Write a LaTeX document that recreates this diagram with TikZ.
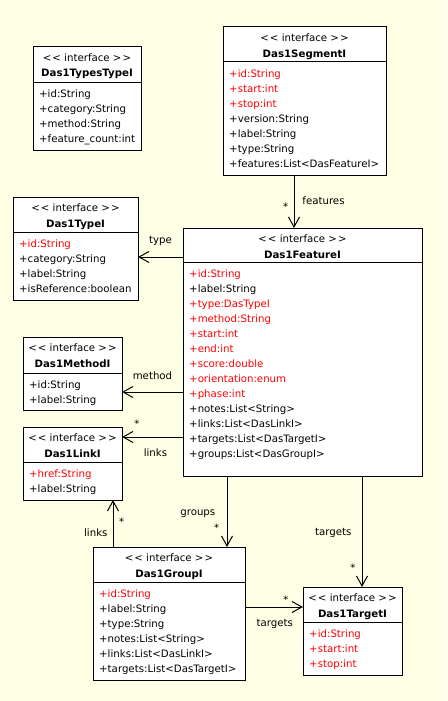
\documentclass[tikz,border=0pt]{standalone}
\usepackage{fontspec}
\setmainfont{DejaVu Sans}
\usetikzlibrary{arrows.meta}
\definecolor{bg}{RGB}{255,255,230}
\definecolor{attrred}{RGB}{255,0,0}
\newcommand{\fs}{\fontsize{10.2}{15}\selectfont}
\tikzset{
  cls/.style={draw, fill=white, line width=1pt, inner sep=0pt, outer sep=0pt, anchor=north west},
  hdr/.style={anchor=base, inner sep=0pt, font=\fs},
  ttl/.style={anchor=base, inner sep=0pt, font=\fs\bfseries},
  attr/.style={anchor=base west, inner sep=0pt, font=\fs},
  lbl/.style={anchor=base, inner sep=0pt, font=\fs},
  assoc/.style={draw, line width=1pt, -{Straight Barb[length=10pt,width=11pt]}},
}
\newcommand{\umlclass}[8]{%
  \node[cls, minimum width=#4pt, minimum height=#5pt] (#1) at (#2,#3) {};
  \draw[line width=1pt] ([yshift=-#6pt]#1.north west) -- ([yshift=-#6pt]#1.north east);
  \node[hdr] (#1-st) at ([yshift=-14.5pt]#1.north) {<\kern1pt{}< interface >\kern1pt{}>};
  \node[ttl] (#1-nm) at ([yshift=-30pt]#1.north) {#7};
  \foreach \x [count=\i] in {#8} {
    \node[attr] (#1-a\i) at ([xshift=6pt,yshift={-(#6+15.5+(\i-1)*15)*1pt}]#1.north west) {\x};
  }
}
\newcommand{\rd}[1]{\textcolor{attrred}{#1}}
\begin{document}
\begin{tikzpicture}[x=1pt,y=-1pt]
\useasboundingbox (0,0) rectangle (447,701);
\fill[bg] (0,0) rectangle (447,701);

\umlclass{types}{33}{47}{108}{103}{35}{Das1TypesTypeI}{+id:String,+category:String,+method:String,+feature\_count:int}
\umlclass{seg}{223}{27}{163}{148}{35}{Das1SegmentI}{\rd{+id:String},\rd{+start:int},\rd{+stop:int},+version:String,+label:String,+type:String,+features:List<DasFeatureI>}
\umlclass{type}{13}{197}{125}{103}{35}{Das1TypeI}{\rd{+id:String},+category:String,+label:String,+isReference:boolean}
\umlclass{feat}{183}{228}{239}{248}{34}{Das1FeatureI}{\rd{+id:String},+label:String,\rd{+type:DasTypeI},\rd{+method:String},\rd{+start:int},\rd{+end:int},\rd{+score:double},\rd{+orientation:enum},\rd{+phase:int},+notes:List<String>,+links:List<DasLinkI>,+targets:List<DasTargetI>,+groups:List<DasGroupI>}
\umlclass{meth}{23}{337}{99}{73}{36}{Das1MethodI}{+id:String,+label:String}
\umlclass{link}{23}{427}{99}{73}{35}{Das1LinkI}{\rd{+href:String},+label:String}
\umlclass{grp}{93}{547}{152}{133}{35}{Das1GroupI}{\rd{+id:String},+label:String,+type:String,+notes:List<String>,+links:List<DasLinkI>,+targets:List<DasTargetI>}
\umlclass{tgt}{303}{587}{99}{88}{35}{Das1TargetI}{\rd{+id:String},\rd{+start:int},\rd{+stop:int}}

% connectors
\coordinate (c1) at ([xshift=-10.5pt]seg.south);
\draw[assoc] (c1) -- (c1 |- feat.north);
\coordinate (c2) at ([yshift=-29pt]feat.north west);
\draw[assoc] (c2) -- (c2 -| type.east);
\coordinate (c3) at ([yshift=-164pt]feat.north west);
\draw[assoc] (c3) -- (c3 -| meth.east);
\coordinate (c4) at ([yshift=-209pt]feat.north west);
\draw[assoc] (c4) -- (c4 -| link.east);
\coordinate (c5) at ([xshift=44pt]feat.south west);
\draw[assoc] (c5) -- (c5 |- grp.north);
\coordinate (c6) at ([xshift=179pt]feat.south west);
\draw[assoc] (c6) -- (c6 |- tgt.north);
\coordinate (c7) at ([xshift=20pt]grp.north west);
\draw[assoc] (c7) -- (c7 |- link.south);
\coordinate (c8) at ([yshift=-60pt]grp.north east);
\draw[assoc] (c8) -- (c8 -| tgt.west);

% labels
\node[lbl] (l1) at (323.5,204) {features};
\node[lbl] (m1) at (285.7,210) {*};
\node[lbl] (l2) at (160.5,243.5) {type};
\node[lbl] (l3) at (152.5,379) {method};
\node[lbl] (m4) at (137,427) {*};
\node[lbl] (l4) at (155.5,456) {links};
\node[lbl] (l5) at (197.8,515) {groups};
\node[lbl] (m5) at (216.7,531) {*};
\node[lbl] (l6) at (333.3,535) {targets};
\node[lbl] (m6) at (353,571) {*};
\node[lbl] (l7) at (95.8,536) {links};
\node[lbl] (m7) at (121.7,525) {*};
\node[lbl] (m8) at (286,603) {*};
\node[lbl] (l8) at (274.7,626) {targets};
\end{tikzpicture}
\end{document}
